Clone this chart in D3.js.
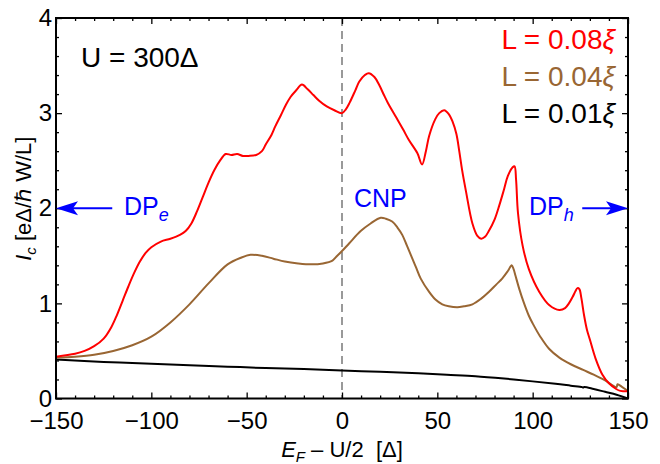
<!DOCTYPE html>
<html>
<head>
<meta charset="utf-8">
<script src="https://cdn.jsdelivr.net/npm/d3@7"></script>
<style>
  body { margin: 0; background: #fff; }
  svg { display: block; font-family: "Liberation Sans", Arial, Helvetica, sans-serif; }
</style>
</head>
<body>
<svg id="chart" width="660" height="464"></svg>
<script>
// ticks
const xMajor = [-150, -100, -50, 0, 50, 100, 150]
const yMajor = [0, 1, 2, 3, 4]

// L = 0.08 xi (red)
const redX = [-150,-140,-135,-130,-125,-121,-118,-115,-112,-109,-106,-103,-100,-95,-90,-85,-82,-79,-76,-73,-70,-67,-64,-61,-58,-55,-52,-49,-45,-42,-40,-37,-35,-32,-29.6,-27,-24,-21,-18,-15,-12,-8,-4,0,2,4,7,9,12,14,17,19.4,22,24,28,32,35,39.5,42,44,45.7,49,51,53.6,56,58,60,61.5,63,65,68.4,71,73,75,77,80,82.5,85,87,89.5,90.5,91.3,92.3,94.7,98,103.5,108.8,114,117,119,121,122.5,123.5,124.5,125.5,127,128.5,130,133,136.6,140,143.8,146,150]
const redY = [0.44,0.47,0.50,0.55,0.63,0.75,0.88,1.03,1.18,1.32,1.44,1.53,1.59,1.65,1.68,1.72,1.76,1.84,1.97,2.12,2.27,2.40,2.50,2.57,2.56,2.57,2.55,2.55,2.56,2.60,2.67,2.77,2.86,2.98,3.08,3.17,3.24,3.30,3.25,3.19,3.13,3.07,3.03,3.00,3.04,3.11,3.24,3.33,3.40,3.42,3.38,3.30,3.19,3.11,2.97,2.83,2.72,2.58,2.46,2.60,2.76,2.94,3.00,3.03,2.99,2.91,2.78,2.60,2.40,2.18,1.84,1.71,1.68,1.70,1.76,1.88,2.03,2.20,2.34,2.43,2.44,2.30,1.95,1.61,1.36,1.12,0.98,0.93,0.95,1.00,1.07,1.13,1.16,1.15,1.06,0.87,0.72,0.62,0.42,0.25,0.16,0.10,0.08,0.075]

// L = 0.04 xi (brown)
const brownX = [-150,-140,-130,-120,-110,-100,-90,-80,-70,-60,-53,-48,-42,-36,-30,-23,-16,-10,-5,-3,0,3.7,9.8,15,20.3,23,26.3,29,31.6,34,36.9,39,41.3,45.7,49,52.6,56,60.5,64,68.4,73,77,81,84,87,89,90,91,93,95.5,98,100,104,108.7,114,120,126.5,132,138,144,144.5,147,150]
const brownY = [0.43,0.44,0.46,0.50,0.56,0.65,0.80,0.99,1.21,1.41,1.48,1.51,1.50,1.47,1.44,1.42,1.41,1.42,1.45,1.49,1.55,1.63,1.76,1.84,1.90,1.89,1.86,1.80,1.72,1.61,1.47,1.37,1.26,1.12,1.04,0.99,0.97,0.96,0.97,0.99,1.05,1.12,1.20,1.26,1.34,1.40,1.36,1.29,1.15,1.00,0.87,0.79,0.65,0.52,0.43,0.36,0.30,0.25,0.19,0.12,0.15,0.12,0.08]

// L = 0.01 xi (black)
const blackX = [-150,-125,-100,-80,-60,-40,-20,0,20,40,55,70,85,100,112,120,126,126.5,127,132,138,144,150]
const blackY = [0.41,0.385,0.365,0.35,0.335,0.32,0.31,0.295,0.28,0.265,0.25,0.235,0.21,0.18,0.155,0.135,0.12,0.115,0.12,0.10,0.07,0.04,0.0]

const series = [
  { xs: blackX, ys: blackY, color: '#000000' },
  { xs: brownX, ys: brownY, color: '#996633' },
  { xs: redX, ys: redY, color: '#ff0000' }
]

const legend = [
  { label: '0.08', color: '#ff0000' },
  { label: '0.04', color: '#996633' },
  { label: '0.01', color: '#000000' }
]

const svg = d3.select('#chart')
const m = { left: 56, right: 628, top: 18, bottom: 398.5 }

const x = d3.scaleLinear().domain([-150, 150]).range([m.left, m.right])
const y = d3.scaleLinear().domain([0, 4]).range([m.bottom, m.top])

svg.append('clipPath').attr('id', 'plot-clip')
  .append('rect')
  .attr('x', m.left).attr('y', m.top)
  .attr('width', m.right - m.left).attr('height', m.bottom - m.top)

// dashed line at CNP
svg.append('line')
  .attr('x1', x(0)).attr('x2', x(0))
  .attr('y1', y(4)).attr('y2', y(0))
  .attr('stroke', '#808080')
  .attr('stroke-width', 1.6)
  .attr('stroke-dasharray', '8,5')

// curves
const line = d3.line().curve(d3.curveCatmullRom.alpha(0.5))
series.forEach(s => {
  const pts = s.xs.map((v, i) => [x(v), y(s.ys[i])])
  svg.append('path')
    .attr('clip-path', 'url(#plot-clip)')
    .attr('d', line(pts))
    .attr('fill', 'none')
    .attr('stroke', s.color)
    .attr('stroke-width', 2)
    .attr('stroke-linejoin', 'round')
})

// axes, ticks pointing inwards on all four sides
const xMinor = d3.range(-150, 151, 10).filter(v => v % 50 !== 0)
const yMinor = d3.range(0, 4.01, 0.2).map(v => +v.toFixed(1)).filter(v => v % 1 !== 0)

const styleAxis = g => {
  g.select('.domain').remove()
  g.selectAll('.tick line').attr('stroke', '#000').attr('stroke-width', 1.3)
  g.selectAll('text').attr('font-size', 24).attr('fill', '#000').attr('font-family', null)
}

svg.append('g').attr('transform', `translate(0,${m.bottom})`)
  .call(d3.axisBottom(x).tickValues(xMajor).tickSize(-6).tickPadding(13))
  .call(styleAxis)
svg.append('g').attr('transform', `translate(0,${m.bottom})`)
  .call(d3.axisBottom(x).tickValues(xMinor).tickSize(-3).tickFormat(''))
  .call(styleAxis)
svg.append('g').attr('transform', `translate(0,${m.top})`)
  .call(d3.axisTop(x).tickValues(xMajor).tickSize(-6).tickFormat(''))
  .call(styleAxis)
svg.append('g').attr('transform', `translate(0,${m.top})`)
  .call(d3.axisTop(x).tickValues(xMinor).tickSize(-3).tickFormat(''))
  .call(styleAxis)

svg.append('g').attr('transform', `translate(${m.left},0)`)
  .call(d3.axisLeft(y).tickValues(yMajor).tickSize(-6).tickPadding(4).tickFormat(d3.format('d')))
  .call(styleAxis)
svg.append('g').attr('transform', `translate(${m.left},0)`)
  .call(d3.axisLeft(y).tickValues(yMinor).tickSize(-3).tickFormat(''))
  .call(styleAxis)
svg.append('g').attr('transform', `translate(${m.right},0)`)
  .call(d3.axisRight(y).tickValues(yMajor).tickSize(-6).tickFormat(''))
  .call(styleAxis)
svg.append('g').attr('transform', `translate(${m.right},0)`)
  .call(d3.axisRight(y).tickValues(yMinor).tickSize(-3).tickFormat(''))
  .call(styleAxis)

// frame
svg.append('rect')
  .attr('x', m.left).attr('y', m.top)
  .attr('width', m.right - m.left).attr('height', m.bottom - m.top)
  .attr('fill', 'none').attr('stroke', '#000').attr('stroke-width', 2)

// axis titles
const xt = svg.append('text')
  .attr('x', x(0)).attr('y', 457)
  .attr('text-anchor', 'middle')
  .attr('font-size', 22)
xt.append('tspan').attr('font-style', 'italic').text('E')
xt.append('tspan').attr('font-style', 'italic').attr('font-size', 15).attr('dy', 5).text('F')
xt.append('tspan').attr('dy', -5).text(' \u2013 U/2\u00a0\u00a0[\u0394]')

const yt = svg.append('text')
  .attr('transform', `translate(31,${y(2.1)}) rotate(-90)`)
  .attr('text-anchor', 'middle')
  .attr('font-size', 22)
yt.append('tspan').attr('font-style', 'italic').text('I')
yt.append('tspan').attr('font-style', 'italic').attr('font-size', 15).attr('dy', 5).text('c')
yt.append('tspan').attr('dy', -5).text(' [e\u0394/\u210f W/L]')

// U label
svg.append('text')
  .attr('x', 81).attr('y', 67)
  .attr('font-size', 28)
  .text('U = 300\u0394')

// legend
legend.forEach((d, i) => {
  const t = svg.append('text')
    .attr('x', 615).attr('y', 49 + i * 37)
    .attr('text-anchor', 'end')
    .attr('font-size', 28)
    .attr('fill', d.color)
  t.append('tspan').text(`L = ${d.label}`)
  t.append('tspan').attr('font-style', 'italic').text('\u03be')
})

// Dirac point / CNP annotations
const blue = '#0000ff'
const arrow = (from, to) => {
  const yy = y(2)
  const x0 = x(from), x1 = x(to)
  const dir = Math.sign(x1 - x0)
  svg.append('line')
    .attr('x1', x0).attr('x2', x1 - dir * 14)
    .attr('y1', yy).attr('y2', yy)
    .attr('stroke', blue).attr('stroke-width', 2)
  svg.append('path')
    .attr('d', `M${x1},${yy} L${x1 - dir * 22},${yy - 7} L${x1 - dir * 17},${yy} L${x1 - dir * 22},${yy + 7} Z`)
    .attr('fill', blue)
}
arrow(-120.5, -150)
arrow(126, 150)

const dpe = svg.append('text').attr('x', 124).attr('y', 215).attr('font-size', 25).attr('fill', blue)
dpe.append('tspan').text('DP')
dpe.append('tspan').attr('font-style', 'italic').attr('font-size', 18).attr('dy', 6).text('e')

svg.append('text').attr('x', 354).attr('y', 207).attr('font-size', 25).attr('fill', blue).text('CNP')

const dph = svg.append('text').attr('x', 529).attr('y', 215).attr('font-size', 25).attr('fill', blue)
dph.append('tspan').text('DP')
dph.append('tspan').attr('font-style', 'italic').attr('font-size', 18).attr('dy', 6).text('h')
</script>
</body>
</html>
